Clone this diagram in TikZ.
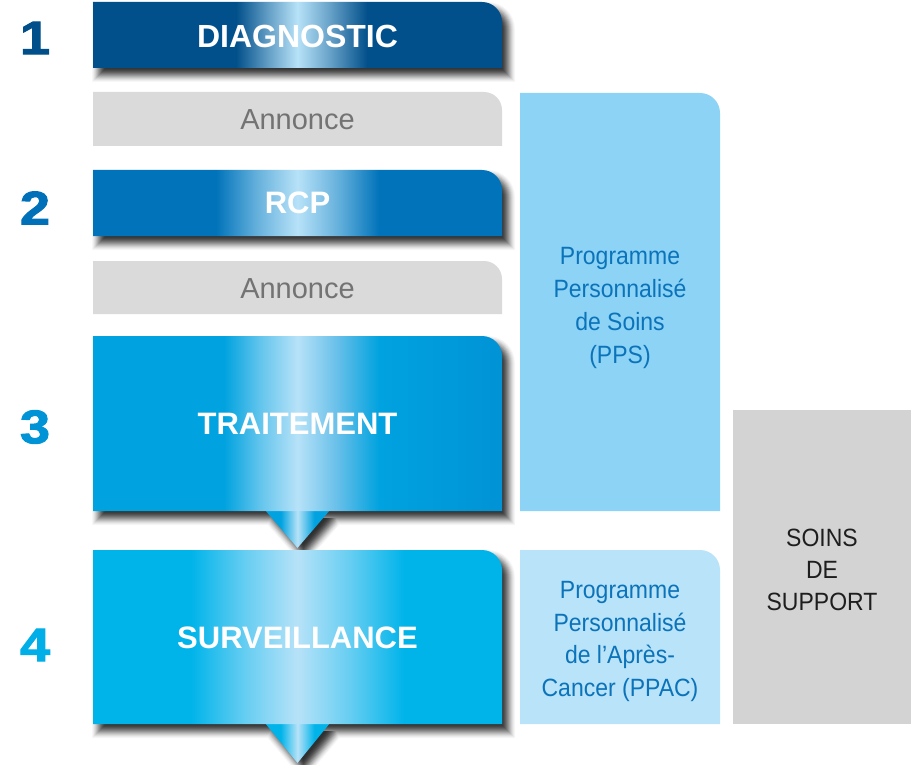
\documentclass[tikz,border=0pt]{standalone}
\usepackage{fontspec}
\setmainfont{Liberation Sans}
\newfontfamily\condfont{Liberation Sans}[FakeStretch=0.92]
\newfontfamily\numfont{Liberation Sans}[FakeStretch=1.15,FakeBold=2.2]

% palette
\definecolor{diagblue}{HTML}{02508B}
\definecolor{rcpblue}{HTML}{0073BA}
\definecolor{trtL}{HTML}{00A2DF}
\definecolor{trtR}{HTML}{0093D6}
\definecolor{survblue}{HTML}{00B4EA}
\definecolor{glow}{HTML}{B7E2F8}
\colorlet{diagmid}{diagblue!45!glow}
\colorlet{rcpmid}{rcpblue!45!glow}
\colorlet{trtmid}{trtL!45!glow}
\colorlet{trtmidR}{trtR!45!glow}
\colorlet{survmid}{survblue!45!glow}
\definecolor{annfill}{HTML}{DADADA}
\definecolor{anntext}{HTML}{737373}
\definecolor{ppsfill}{HTML}{8CD3F5}
\definecolor{ppacfill}{HTML}{B9E3F8}
\definecolor{progtext}{HTML}{0B73BA}
\definecolor{supfill}{HTML}{D3D3D3}
\definecolor{suptext}{HTML}{1E1E1E}
\definecolor{num1}{HTML}{004F8A}
\definecolor{num2}{HTML}{0071B9}
\definecolor{num3}{HTML}{0094D7}
\definecolor{num4}{HTML}{00AEE8}

% horizontal glows: the path spans 25bp..75bp of each shading
\pgfdeclarehorizontalshading{diagshade}{100bp}{color(0bp)=(diagblue); color(42.5bp)=(diagblue); color(46.5bp)=(diagmid); color(50bp)=(glow); color(54bp)=(diagmid); color(58.5bp)=(diagblue); color(100bp)=(diagblue)}
\pgfdeclarehorizontalshading{rcpshade}{100bp}{color(0bp)=(rcpblue); color(40bp)=(rcpblue); color(45bp)=(rcpmid); color(50bp)=(glow); color(55bp)=(rcpmid); color(60bp)=(rcpblue); color(100bp)=(rcpblue)}
\pgfdeclarehorizontalshading{trtshade}{100bp}{color(0bp)=(trtL); color(41bp)=(trtL); color(45.5bp)=(trtmid); color(50bp)=(glow); color(55bp)=(trtmidR); color(60bp)=(trtL); color(75bp)=(trtR); color(100bp)=(trtR)}
\pgfdeclarehorizontalshading{survshade}{100bp}{color(0bp)=(survblue); color(37bp)=(survblue); color(43.5bp)=(survmid); color(50bp)=(glow); color(56.5bp)=(survmid); color(63bp)=(survblue); color(100bp)=(survblue)}
\pgfdeclarehorizontalshading{trtarrow}{100bp}{color(0bp)=(trtL); color(37bp)=(trtL); color(50bp)=(glow); color(63bp)=(trtL); color(100bp)=(trtL)}
\pgfdeclarehorizontalshading{survarrow}{100bp}{color(0bp)=(survblue); color(37bp)=(survblue); color(50bp)=(glow); color(63bp)=(survblue); color(100bp)=(survblue)}

% box with a rounded top-right corner (y grows downwards)
\newcommand\cornerpath[5]{({#1},{#2}) -- ({#3-(#5)},{#2}) arc[start angle=-90,end angle=0,radius={#5}] -- ({#3},{#4}) -- ({#1},{#4}) -- cycle}
% blurred drop shadow on white: opaque grey layers, grown (t>0) or shrunk (t<0) around the offset box
\def\shadowsteps{7/3,6/7,5/12,4/18,3/25,2/32,1/40,0/47,-1/54,-2/61,-3/67,-4/72,-5/76,-6/79,-7/81}
\newcommand\boxshadow[5]{%
  \foreach \t/\d in \shadowsteps{%
    \fill[black!\d] \cornerpath{#1+6-\t}{#2+7-\t}{#3+6+\t}{#4+7+\t}{#5+\t};}}
% same, with the pointer below the box (#6 = tip y)
\newcommand\stageshadow[6]{%
  \foreach \t/\d in \shadowsteps{%
    \fill[black!\d] \cornerpath{#1+6-\t}{#2+7-\t}{#3+6+\t}{#4+7+\t}{#5+\t};
    \fill[black!\d] ({265+6-1.33*\t},{#4+7}) -- ({330+6+1.33*\t},{#4+7}) -- ({297.5+6},{#6+7+1.51*\t}) -- cycle;}}

\begin{document}
\begin{tikzpicture}[x=1pt,y=-1pt,
  title/.style={text=white,inner sep=0pt,font=\bfseries\fontsize{31}{36}\selectfont},
  anntxt/.style={text=anntext,inner sep=0pt,font=\fontsize{29}{34}\selectfont},
  progtxt/.style={text=progtext,inner sep=0pt,align=center,font=\condfont\fontsize{25}{32.7}\selectfont},
  suptxt/.style={text=suptext,inner sep=0pt,align=center,font=\condfont\fontsize{25}{32}\selectfont},
  num/.style={inner sep=0pt,font=\numfont\bfseries\fontsize{47}{50}\selectfont}]
\useasboundingbox (0,0) rectangle (911,765);
\clip (0,0) rectangle (911,765);

% side columns
\fill[ppsfill] \cornerpath{520}{93}{720}{511}{20};
\fill[ppacfill] \cornerpath{520}{550}{720}{724}{20};
\fill[supfill] (733,410) rectangle (911,724);
\node[progtxt] (pps) at (620,308) {Programme\\Personnalisé\\de Soins\\(PPS)};
\node[progtxt] (ppac) at (620,641.5) {Programme\\Personnalisé\\de l’Après-\\Cancer (PPAC)};
\node[suptxt] (sup) at (822,570) {SOINS\\DE\\SUPPORT};

% announcement bands
\fill[annfill] \cornerpath{93}{92}{502}{146}{18};
\node[anntxt] (ann1) at (297.5,119.5) {Annonce};
\fill[annfill] \cornerpath{93}{261}{502}{314}{18};
\node[anntxt] (ann2) at (297.5,288.5) {Annonce};

% stage 1
\boxshadow{93}{2}{502}{68}{20}
\shade[shading=diagshade] \cornerpath{93}{2}{502}{68}{20};
\node[title,font=\bfseries\fontsize{32}{36}\selectfont] (diag) at (297.5,36) {DIAGNOSTIC};

% stage 2
\boxshadow{93}{170}{502}{236}{20}
\shade[shading=rcpshade] \cornerpath{93}{170}{502}{236}{20};
\node[title] (rcp) at (297.5,203) {RCP};

% stage 3 with its pointer
\stageshadow{93}{336}{502}{511}{20}{548}
\shade[shading=trtarrow] (265,510) -- (330,510) -- (297.5,548) -- cycle;
\shade[shading=trtshade] \cornerpath{93}{336}{502}{511}{20};
\node[title] (trt) at (297.5,424) {TRAITEMENT};

% stage 4 with its pointer
\stageshadow{93}{550}{502}{724}{20}{763}
\shade[shading=survarrow] (265,723) -- (330,723) -- (297.5,763) -- cycle;
\shade[shading=survshade] \cornerpath{93}{550}{502}{724}{20};
\node[title] (surv) at (297.5,638) {SURVEILLANCE};

% step numbers
\node[num,text=num1] (n1) at (35,38) {1};
\node[num,text=num2] (n2) at (35,208) {2};
\node[num,text=num3] (n3) at (35,427) {3};
\node[num,text=num4] (n4) at (35,645) {4};
\end{tikzpicture}
\end{document}
